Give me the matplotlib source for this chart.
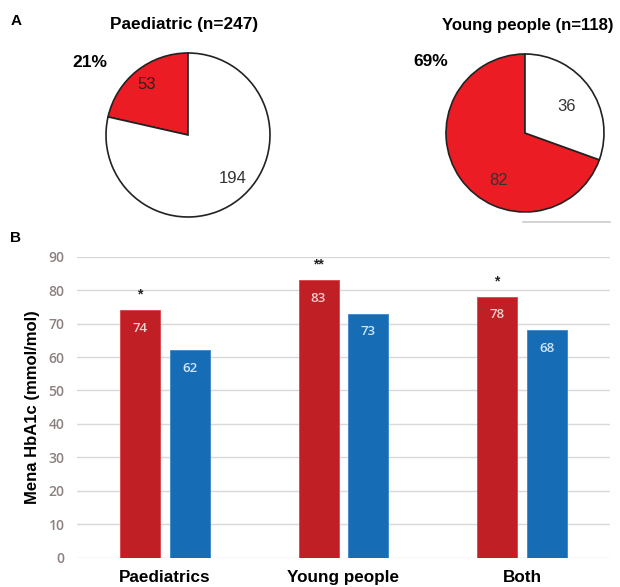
import numpy as np
import matplotlib.pyplot as plt

plt.rcParams['font.family'] = ['Liberation Sans', 'DejaVu Sans']

# panel A: pie counts
pie_titles = ["Paediatric (n=247)", "Young people (n=118)"]
pie_counts = [[53, 194], [82, 36]]
pie_pcts = ["21%", "69%"]

# panel B: mean HbA1c per group
groups = ["Paediatrics", "Young people", "Both"]
hba1c_red = [74, 83, 78]
hba1c_blue = [62, 73, 68]
stars = ["*", "**", "*"]
yticks = np.arange(0, 91, 10)

W, H = 620, 587
fig = plt.figure(figsize=(W / 100, H / 100), dpi=100)

def px_axes(cx, cy, r):
    return fig.add_axes([(cx - r) / W, 1 - (cy + r) / H, 2 * r / W, 2 * r / H])

pie_red = "#ec1c24"
edge = "#222222"

# left pie
ax1 = px_axes(188, 135, 82)
ax1.pie(pie_counts[0], colors=[pie_red, "white"], startangle=90, counterclock=True,
        wedgeprops=dict(edgecolor=edge, linewidth=1.2))
ax1.set_xlim(-1, 1); ax1.set_ylim(-1, 1)
ax1.text(-0.5, 0.61, str(pie_counts[0][0]), ha="center", va="center", fontsize=12, color="#222222")
ax1.text(0.54, -0.53, str(pie_counts[0][1]), ha="center", va="center", fontsize=12, color="#333333")
ax1.text(-1.2, 0.89, pie_pcts[0], ha="center", va="center", fontsize=12.5, fontweight="bold")
ax1.text(-0.05, 1.35, pie_titles[0], ha="center", va="center", fontsize=12.4, fontweight="bold")

# right pie
ax2 = px_axes(525, 133, 79)
ax2.pie(pie_counts[1], colors=[pie_red, "white"], startangle=90, counterclock=True,
        wedgeprops=dict(edgecolor=edge, linewidth=1.2))
ax2.set_xlim(-1, 1); ax2.set_ylim(-1, 1)
ax2.text(-0.34, -0.6, str(pie_counts[1][0]), ha="center", va="center", fontsize=12, color="#333333")
ax2.text(0.52, 0.34, str(pie_counts[1][1]), ha="center", va="center", fontsize=12, color="#333333")
ax2.text(-1.19, 0.9, pie_pcts[1], ha="center", va="center", fontsize=12.5, fontweight="bold")
ax2.text(0.03, 1.36, pie_titles[1], ha="center", va="center", fontsize=12.1, fontweight="bold")

# stray rule under the right pie
fig.add_artist(plt.Line2D([523 / W, 610 / W], [1 - 222 / H] * 2, color="#cccccc", lw=1.2))

fig.text(11 / W, 1 - 21 / H, "A", fontsize=11, fontweight="bold", va="center")
fig.text(10 / W, 1 - 238 / H, "B", fontsize=11, fontweight="bold", va="center")

# panel B bars
ax = fig.add_axes([77 / W, 1 - 557.7 / H, (610 - 77) / W, (557.7 - 256.7) / H])
x = np.arange(len(groups))
w = 0.224
off = 0.14
ax.bar(x - off, hba1c_red, w, color="#c11f26", edgecolor="#d8434a", linewidth=0.6, zorder=3)
ax.bar(x + off, hba1c_blue, w, color="#176db5", edgecolor="#3a86c6", linewidth=0.6, zorder=3)

for xi, v in zip(x - off, hba1c_red):
    ax.annotate(str(v), (xi, v), xytext=(0, -13), textcoords="offset points", ha="center",
                va="center", fontsize=9.5, color="#f4d0d0", family="Open Sans", fontweight="semibold")
for xi, v in zip(x + off, hba1c_blue):
    ax.annotate(str(v), (xi, v), xytext=(0, -13), textcoords="offset points", ha="center",
                va="center", fontsize=9.5, color="#d4e6f6", family="Open Sans", fontweight="semibold")
for xi, v, s in zip(x - off, hba1c_red, stars):
    ax.annotate(s, (xi, v), xytext=(0, 11), textcoords="offset points",
                ha="center", va="center", fontsize=10, fontweight="bold", color="#222222")

ax.set_xlim(-0.493, 2.493)
ax.set_ylim(0, 90)
ax.set_yticks(yticks)
ax.grid(axis="y", color="#d9d9d9", linewidth=1, zorder=0)
for sp in ax.spines.values():
    sp.set_visible(False)
ax.tick_params(axis="y", length=0, pad=9)
for lb in ax.get_yticklabels():
    lb.set_fontfamily("Open Sans")
    lb.set_fontweight("semibold")
    lb.set_fontsize(10)
    lb.set_color("#8c8080")
ax.tick_params(axis="x", length=0, pad=9)
ax.set_xticks(x)
ax.set_xticklabels(groups, fontsize=12.3, fontweight="bold")
ax.set_ylabel("Mena HbA1c (mmol/mol)", fontsize=12, fontweight="bold", labelpad=6)

fig.savefig("out.png", dpi=100)
